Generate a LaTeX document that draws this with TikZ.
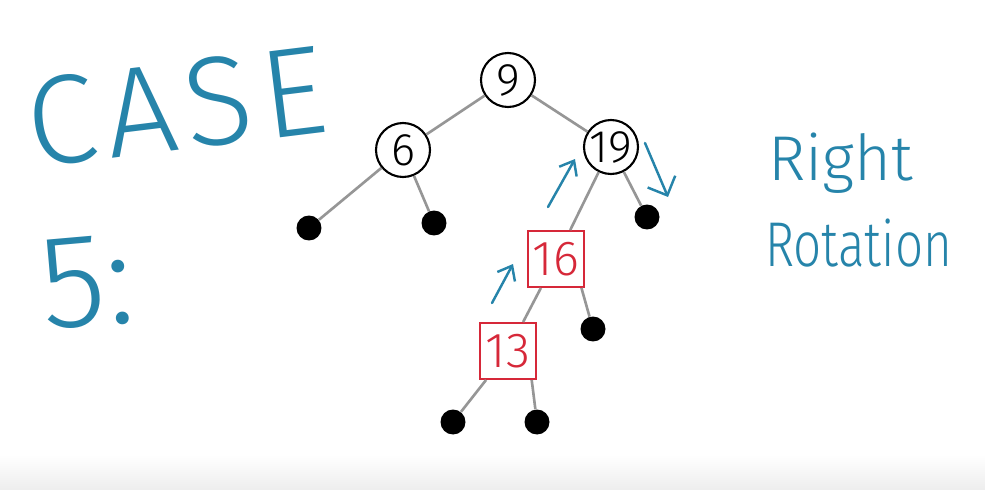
\documentclass[tikz,border=0pt]{standalone}
\usepackage{fontspec}
\setmainfont{Fira Sans Light}
\usetikzlibrary{arrows.meta}
\definecolor{penblue}{RGB}{38,132,170}
\definecolor{penred}{RGB}{214,40,57}
\definecolor{edgegray}{RGB}{150,150,150}

\begin{document}
\begin{tikzpicture}[x=0.02cm, y=-0.02cm,
        blk/.style={draw, circle, line width=1.2pt, minimum size=1.08cm,
                    inner sep=0pt, font=\fontsize{26}{26}\selectfont},
        redbox/.style={draw=penred, line width=1.1pt, minimum size=1.12cm,
                    inner sep=0pt, text=penred, font=\fontsize{28}{28}\selectfont},
        leaf/.style={circle, fill=black, minimum size=0.5cm, inner sep=0pt},
        edge/.style={draw=edgegray, line width=1.5pt},
        rot/.style={-{Straight Barb[length=2.5mm, width=4mm]}, penblue,
                    line width=1.4pt, line cap=round},
        hand/.style={penblue, inner sep=0pt}
      ]
        \useasboundingbox (0,0) rectangle (985,490);
        \shade[top color=white, bottom color=black!7] (0,455) rectangle (985,490);

        \node[hand, anchor=base west, rotate=7, font=\fontsize{72}{72}\selectfont]
          (case) at (32,168) {C\kern5pt A\kern5pt S\kern5pt E};
        \node[hand, anchor=base west, rotate=5, font=\fontsize{76}{76}\selectfont]
          (five) at (44,330) {5:};
        \node[hand, anchor=base west, font=\fontsize{36}{36}\selectfont]
          (right) at (768,180) {Right};
        \node[hand, anchor=base west, font=\fontsize{36}{36}\selectfont]
          (rotation) at (765,266) {\scalebox{0.78}[1]{Rotation}};

        \node[blk] (n9) at (508,80) {9};
        \node[blk] (n6) at (403,150) {6};
        \node[blk] (n19) at (611,147) {19};
        \node[redbox] (n16) at (556,259) {16};
        \node[redbox] (n13) at (508,351) {13};

        \node[leaf] (l1) at (309,228) {};
        \node[leaf] (l2) at (434,223) {};
        \node[leaf] (l3) at (647,217) {};
        \node[leaf] (l4) at (593,329) {};
        \node[leaf] (l5) at (453,422) {};
        \node[leaf] (l6) at (537,422) {};

        \draw[edge] (n9) -- (n6);
        \draw[edge] (n9) -- (n19);
        \draw[edge] (n6) -- (l1);
        \draw[edge] (n6) -- (l2);
        \draw[edge] (n19) -- (n16);
        \draw[edge] (n19) -- (l3);
        \draw[edge] (n16) -- (n13);
        \draw[edge] ([xshift=-2pt]n16.south east) -- (l4);
        \draw[edge] ([xshift=4pt]n13.south west) -- (l5);
        \draw[edge] ([xshift=-3pt]n13.south east) -- (l6);

        \coordinate (a1s) at (548,207);
        \coordinate (a1e) at (575,159);
        \coordinate (a2s) at (492,303);
        \coordinate (a2e) at (513,264);
        \coordinate (a3s) at (645,143);
        \coordinate (a3e) at (668,197);
        \draw[rot] (a1s) -- (a1e);
        \draw[rot] (a2s) -- (a2e);
        \draw[rot, -{Straight Barb[length=3mm, width=6mm]}] (a3s) -- (a3e);
      \end{tikzpicture}
\end{document}
